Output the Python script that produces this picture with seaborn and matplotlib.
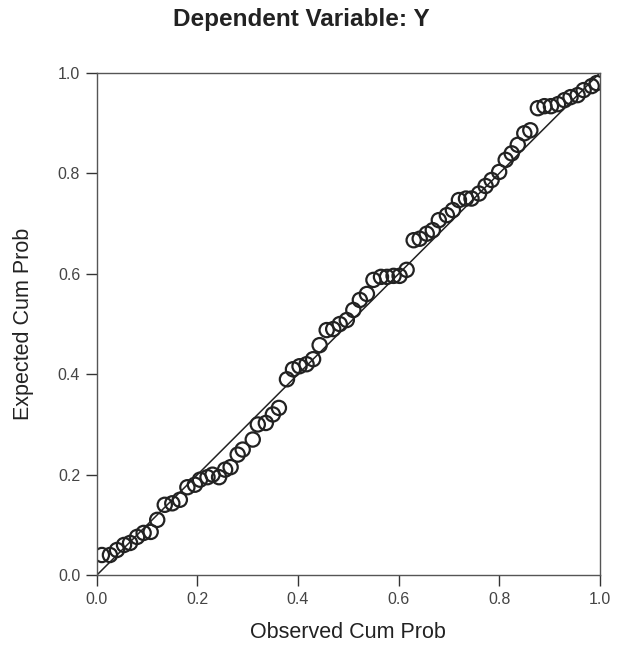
import matplotlib
matplotlib.use("Agg")
import matplotlib.pyplot as plt
import seaborn as sns
import pandas as pd

observed = [0.010, 0.026, 0.040, 0.054, 0.066, 0.080, 0.093, 0.107, 0.120, 0.135,
            0.150, 0.165, 0.180, 0.195, 0.205, 0.220, 0.230, 0.243, 0.255, 0.266,
            0.280, 0.290, 0.310, 0.320, 0.336, 0.350, 0.362, 0.378, 0.390, 0.403,
            0.417, 0.430, 0.443, 0.457, 0.470, 0.483, 0.497, 0.510, 0.523, 0.537,
            0.550, 0.565, 0.577, 0.590, 0.602, 0.616, 0.630, 0.642, 0.656, 0.668,
            0.680, 0.696, 0.708, 0.720, 0.734, 0.745, 0.760, 0.773, 0.785, 0.800,
            0.813, 0.825, 0.837, 0.850, 0.862, 0.877, 0.890, 0.903, 0.917, 0.930,
            0.942, 0.956, 0.968, 0.984, 0.994]
expected = [0.040, 0.040, 0.050, 0.060, 0.064, 0.076, 0.084, 0.086, 0.110, 0.140,
            0.143, 0.150, 0.175, 0.180, 0.190, 0.195, 0.200, 0.195, 0.210, 0.215,
            0.240, 0.250, 0.270, 0.300, 0.303, 0.320, 0.333, 0.390, 0.410, 0.416,
            0.420, 0.430, 0.458, 0.488, 0.490, 0.500, 0.508, 0.528, 0.548, 0.560,
            0.588, 0.594, 0.594, 0.596, 0.596, 0.608, 0.667, 0.670, 0.680, 0.687,
            0.707, 0.717, 0.727, 0.747, 0.750, 0.750, 0.760, 0.775, 0.787, 0.803,
            0.827, 0.840, 0.857, 0.880, 0.886, 0.930, 0.934, 0.934, 0.938, 0.946,
            0.952, 0.956, 0.966, 0.974, 0.980]
ref_line = [0.0, 1.0]
ticks = [0.0, 0.2, 0.4, 0.6, 0.8, 1.0]
tick_labels = ["0.0", "0.2", "0.4", "0.6", "0.8", "1.0"]

df = pd.DataFrame({"Observed Cum Prob": observed, "Expected Cum Prob": expected})
ref = pd.DataFrame({"x": ref_line, "y": ref_line})

sns.set_theme(style="white")
plt.rcParams["font.family"] = ["Liberation Sans", "DejaVu Sans"]

fig = plt.figure(figsize=(6.17, 6.58), dpi=100)
ax = fig.add_axes([0.157, 0.126, 0.815, 0.763])

sns.lineplot(data=ref, x="x", y="y", color="#222222", linewidth=1.1, ax=ax)
sns.scatterplot(data=df, x="Observed Cum Prob", y="Expected Cum Prob", ax=ax,
                s=105, facecolor="none", edgecolor="#222222", linewidth=1.6, marker="o")

ax.set_xlim(0, 1)
ax.set_ylim(0, 1)
ax.set_xticks(ticks)
ax.set_xticklabels(tick_labels)
ax.set_yticks(ticks)
ax.set_yticklabels(tick_labels)
ax.tick_params(axis="both", direction="out", length=8, width=1, color="#333333",
               labelsize=11.5, labelcolor="#444444", pad=4, bottom=True, left=True)
for sp in ax.spines.values():
    sp.set_color("#555555")
    sp.set_linewidth(1.0)

ax.set_xlabel("Observed Cum Prob", fontsize=15.5, color="#222222", labelpad=11)
ax.set_ylabel("Expected Cum Prob", fontsize=15.5, color="#222222", labelpad=17)
fig.suptitle("Dependent Variable: Y", fontsize=17.5, fontweight="bold", color="#222222",
             x=0.488, y=0.988)

fig.savefig("out.png", dpi=100, facecolor="white")
